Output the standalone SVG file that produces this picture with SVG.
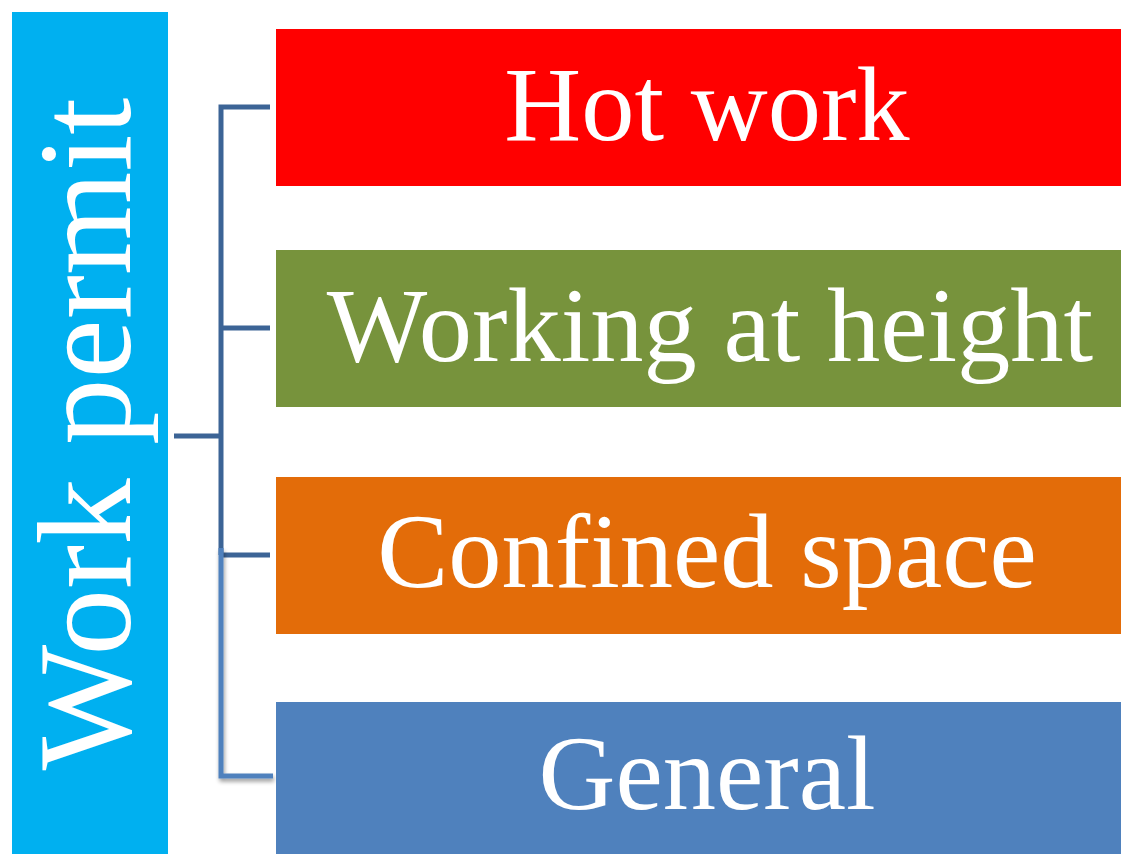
<svg xmlns="http://www.w3.org/2000/svg" width="1121" height="854" viewBox="0 0 1121 854">
<style>
  .lbl { font-family: "Liberation Serif", "Times New Roman", serif; fill: #ffffff; text-anchor: middle; }
  .big { font-size: 106.5px; }
  .side { font-size: 133px; }
  .dk { stroke: #3c6496; stroke-width: 5; fill: none; }
  .lt { stroke: #4f81bd; stroke-width: 5; fill: none; }
</style>
<defs>
  <filter id="sh" x="-50%" y="-10%" width="200%" height="130%">
    <feGaussianBlur in="SourceAlpha" stdDeviation="2"/>
    <feOffset dx="1" dy="3" result="b"/>
    <feComponentTransfer><feFuncA type="linear" slope="0.4"/></feComponentTransfer>
    <feMerge><feMergeNode/><feMergeNode in="SourceGraphic"/></feMerge>
  </filter>
</defs>
<rect width="1121" height="854" fill="#ffffff"/>
<g id="work-permit">
  <rect x="12" y="12" width="156" height="842" fill="#00b0f0"/>
  <text class="lbl side" transform="translate(130,434) rotate(-90)">Work permit</text>
</g>
<g id="connectors">
  <path class="dk" d="M270,107 H221 V555"/>
  <path class="dk" d="M221,328 H270"/>
  <path class="dk" d="M174,436 H221"/>
  <path class="dk" d="M221,555 H270"/>
  <path class="lt" filter="url(#sh)" d="M221,548 V776 H273"/>
</g>
<g id="hot-work">
  <rect x="276" y="29" width="845" height="157" fill="#ff0000"/>
  <text class="lbl big" x="707" y="140">Hot work</text>
</g>
<g id="working-at-height">
  <rect x="276" y="250" width="845" height="157" fill="#77933c"/>
  <text class="lbl big" x="710" y="361">Working at height</text>
</g>
<g id="confined-space">
  <rect x="276" y="477" width="845" height="157" fill="#e36c09"/>
  <text class="lbl big" x="707" y="587">Confined space</text>
</g>
<g id="general">
  <rect x="276" y="702" width="845" height="152" fill="#4f81bd"/>
  <text class="lbl big" x="707" y="809">General</text>
</g>
</svg>
